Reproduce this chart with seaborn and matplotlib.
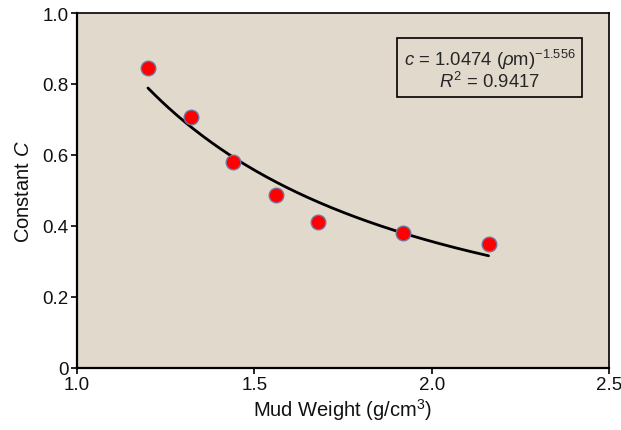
import numpy as np
import pandas as pd
import matplotlib
matplotlib.use("Agg")
import matplotlib.pyplot as plt
import seaborn as sns

# Data
mud_weight = [1.20, 1.32, 1.44, 1.56, 1.68, 1.92, 2.16]
constant_c = [0.845, 0.706, 0.581, 0.487, 0.412, 0.380, 0.350]
fit_a = 1.0474
fit_b = -1.556
r2 = 0.9417
x_ticks = [1.0, 1.5, 2.0, 2.5]
x_tick_labels = ["1.0", "1.5", "2.0", "2.5"]
y_ticks = [0, 0.2, 0.4, 0.6, 0.8, 1.0]
y_tick_labels = ["0", "0.2", "0.4", "0.6", "0.8", "1.0"]

sns.set_theme(style="ticks")
plt.rcParams['font.family'] = ['Liberation Sans', 'DejaVu Sans']
plt.rcParams['mathtext.fontset'] = 'custom'
plt.rcParams['mathtext.rm'] = 'Liberation Sans'
plt.rcParams['mathtext.it'] = 'Liberation Sans:italic'

fig = plt.figure(figsize=(6.21, 4.31), dpi=100)
ax = fig.add_axes([0.124, 0.144, 0.857, 0.8235])
ax.set_facecolor('#e1d9cc')

df = pd.DataFrame({"x": mud_weight, "y": constant_c})
xf = np.linspace(min(mud_weight), max(mud_weight), 200)
fit_df = pd.DataFrame({"x": xf, "y": fit_a * xf ** fit_b})

sns.lineplot(data=fit_df, x="x", y="y", ax=ax, color="black", linewidth=2.0, zorder=2)
sns.scatterplot(data=df, x="x", y="y", ax=ax, s=110, color="#ff0000",
                edgecolor="#7a6f9a", linewidth=1.0, zorder=3)

ax.set_xlim(1.0, 2.5)
ax.set_ylim(0, 1.0)
ax.set_xticks(x_ticks)
ax.set_xticklabels(x_tick_labels)
ax.set_yticks(y_ticks)
ax.set_yticklabels(y_tick_labels)
ax.tick_params(axis='both', labelsize=13.5, length=4, width=1.2, color='black',
               direction='out', pad=2, labelcolor='#111111')
for sp in ax.spines.values():
    sp.set_color('black')
    sp.set_linewidth(1.2)
ax.spines['left'].set_linewidth(1.6)
ax.spines['bottom'].set_linewidth(1.6)

ax.set_xlabel("Mud Weight (g/cm$^{\\mathregular{3}}$)", fontsize=14.5, labelpad=2,
              color='#111111')
ax.set_ylabel("Constant $C$", fontsize=14.5, labelpad=7, color='#111111')

txt = ("$c$ = %.4f ($\\rho$m)$^{\\mathregular{%s}}$\n$R^2$ = %.4f"
       % (fit_a, ("−%.3f" % abs(fit_b)), r2))
ax.text(0.9365, 0.905, txt, transform=ax.transAxes, ha='right', va='top',
        fontsize=13.3, multialignment='center', linespacing=1.0,
        bbox=dict(boxstyle='square,pad=0.35', facecolor='none',
                  edgecolor='black', linewidth=1.2))

fig.savefig("out.png", dpi=100)
